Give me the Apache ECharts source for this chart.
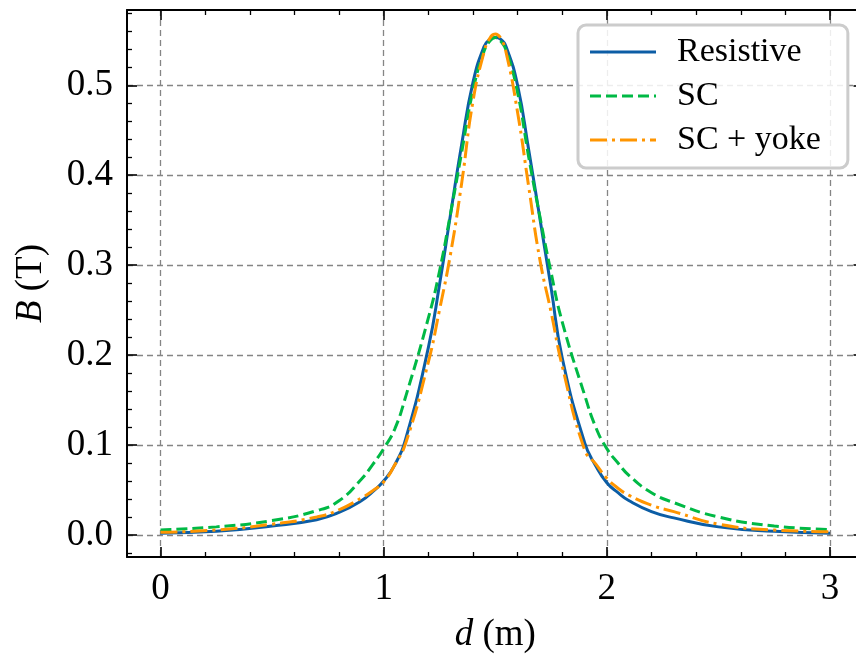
<!DOCTYPE html>
<html>
<head>
<meta charset="utf-8">
<script src="https://cdn.jsdelivr.net/npm/echarts@6/dist/echarts.min.js"></script>
<style>
	html, body { margin: 0; padding: 0; background: #fff; overflow: hidden; }
	/* 图的右边框在原图外面，画布比窗口宽一点 */
	#chart { width: 864px; height: 659px; }
</style>
</head>
<body>
<div id="chart"></div>
<script>
//读图得到的数据
var xs = [0, 0.25, 0.5, 0.7, 0.8, 0.9, 0.95, 1.0, 1.05, 1.1, 1.2, 1.25, 1.3, 1.35, 1.4, 1.45, 1.475, 1.5, 1.525, 1.55, 1.6, 1.65, 1.7, 1.75, 1.8, 1.9, 1.95, 2.0, 2.05, 2.1, 2.2, 2.3, 2.5, 2.75, 3.0];
var resistive = [0.002, 0.004, 0.010, 0.017, 0.025, 0.038, 0.048, 0.060, 0.078, 0.108, 0.208, 0.278, 0.357, 0.435, 0.503, 0.543, 0.551, 0.553, 0.551, 0.542, 0.500, 0.428, 0.352, 0.275, 0.197, 0.103, 0.077, 0.058, 0.047, 0.038, 0.026, 0.019, 0.009, 0.004, 0.002];
var sc = [0.0056, 0.009, 0.016, 0.027, 0.038, 0.062, 0.078, 0.096, 0.118, 0.155, 0.241, 0.293, 0.358, 0.426, 0.494, 0.538, 0.549, 0.553, 0.549, 0.538, 0.492, 0.420, 0.354, 0.292, 0.237, 0.156, 0.120, 0.096, 0.080, 0.066, 0.047, 0.036, 0.020, 0.010, 0.006];
var scYoke = [0.003, 0.0055, 0.012, 0.020, 0.028, 0.041, 0.049, 0.059, 0.078, 0.103, 0.192, 0.250, 0.313, 0.392, 0.482, 0.537, 0.552, 0.557, 0.552, 0.535, 0.470, 0.387, 0.306, 0.248, 0.188, 0.095, 0.079, 0.063, 0.052, 0.044, 0.033, 0.026, 0.012, 0.0055, 0.0037];
var names = ['Resistive', 'SC', 'SC + yoke'];
var colors = ['#0C5DA5', '#00B945', '#FF9500'];
var dashes = ['solid', [11, 5], [17, 5, 3, 5]];

var FONT = 'Liberation Serif';
var LW = 3;

function pairs(ys) {
	return xs.map(function (x, i) { return [x, ys[i]]; });
}

//图例线段图标，按虚线样式拼出路径
function legendPath(pattern, w, h) {
	if (pattern === 'solid') return 'path://M0,0H' + w + 'V' + h + 'H0Z';
	var p = '', x = 0, k = 0;
	while (x < w) {
		var len = pattern[k % pattern.length];
		if (k % 2 === 0) {
			var e = Math.min(x + len, w);
			p += 'M' + x + ',0H' + e + 'V' + h + 'H' + x + 'Z';
		}
		x += len;
		k++;
	}
	return 'path://' + p;
}

function tickLabel(v) {
	var r = Math.round(v * 10) / 10;
	if (Math.abs(v - r) > 1e-6) return '';
	return r.toFixed(1);
}

var chart = echarts.init(document.getElementById('chart'));

var axisLine = { show: true, onZero: false, lineStyle: { color: '#000', width: 2 } };
var axisTick = { show: true, inside: true, length: 10, lineStyle: { color: '#000', width: 1.6 } };
var minorTick = { show: true, splitNumber: 5, length: 5, lineStyle: { color: '#000', width: 1.3 } };
var gridLine = { show: true, showMinLine: false, showMaxLine: false, lineStyle: { color: '#858585', width: 1.3, type: [6, 4] } };

var XMIN = -0.15, XMAX = 3.15, YMIN = -0.0245, YMAX = 0.5837;

var option = {
	animation: false,
	grid: { left: 127, top: 10, right: 0.5, bottom: 101, containLabel: false },
	legend: {
		data: names.map(function (n, i) {
			return { name: n, icon: legendPath(dashes[i], 66, 3), itemStyle: { color: colors[i] } };
		}),
		orient: 'vertical',
		left: 578,
		top: 25,
		itemWidth: 66,
		itemHeight: 3,
		itemGap: 10,
		padding: [10, 27, 11, 12],
		backgroundColor: 'rgba(255,255,255,0.85)',
		borderColor: '#cccccc',
		borderWidth: 3,
		borderRadius: 8,
		textStyle: { fontFamily: FONT, fontSize: 34, color: '#000', padding: [0, 0, 0, 16] }
	},
	xAxis: [
		{
			type: 'value', position: 'bottom', min: XMIN, max: XMAX, splitNumber: 3,
			name: '{i|d} (m)', nameLocation: 'middle', nameGap: 60,
			nameTextStyle: { fontFamily: FONT, fontSize: 37, color: '#000', rich: { i: { fontFamily: FONT, fontSize: 37, fontStyle: 'italic' } } },
			axisLine: axisLine, axisTick: axisTick, minorTick: minorTick,
			axisLabel: { show: true, margin: 14, fontFamily: FONT, fontSize: 37, color: '#000', showMinLabel: false, showMaxLabel: false,
				formatter: function (v) { return Math.abs(v - Math.round(v)) < 1e-6 ? String(Math.round(v)) : ''; } },
			splitLine: gridLine
		},
		{
			type: 'value', position: 'top', min: XMIN, max: XMAX, splitNumber: 3,
			axisLine: axisLine, axisTick: axisTick, minorTick: minorTick,
			axisLabel: { show: false }, splitLine: { show: false }
		}
	],
	yAxis: [
		{
			type: 'value', position: 'left', min: YMIN, max: YMAX, splitNumber: 5,
			name: '{i|B} (T)', nameLocation: 'middle', nameGap: 77, nameRotate: 90,
			nameTextStyle: { fontFamily: FONT, fontSize: 37, color: '#000', rich: { i: { fontFamily: FONT, fontSize: 37, fontStyle: 'italic' } } },
			axisLine: axisLine, axisTick: axisTick, minorTick: minorTick,
			axisLabel: { show: true, margin: 14, fontFamily: FONT, fontSize: 37, color: '#000', showMinLabel: false, showMaxLabel: false, formatter: tickLabel },
			splitLine: gridLine
		},
		{
			type: 'value', position: 'right', min: YMIN, max: YMAX, splitNumber: 5,
			axisLine: axisLine, axisTick: axisTick, minorTick: minorTick,
			axisLabel: { show: false }, splitLine: { show: false }
		}
	],
	series: names.map(function (n, i) {
		var ys = [resistive, sc, scYoke][i];
		return {
			name: n, type: 'line', data: pairs(ys), symbol: 'none', showSymbol: false,
			smooth: 0.5, color: colors[i],
			lineStyle: { color: colors[i], width: LW, type: dashes[i] }
		};
	})
};
chart.setOption(option);
</script>
</body>
</html>
